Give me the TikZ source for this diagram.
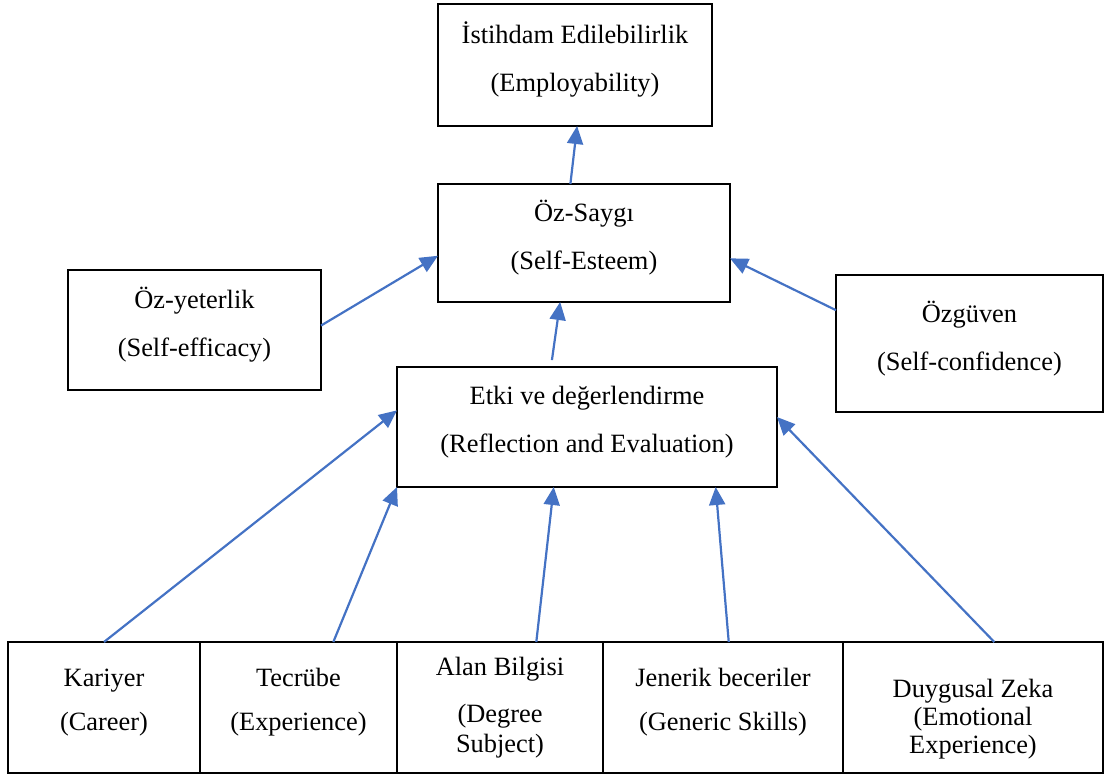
\documentclass[tikz,border=0pt]{standalone}
\usepackage{fontspec}
\setmainfont{Liberation Serif}
\usepackage{tikz}
\usetikzlibrary{positioning}
\usetikzlibrary{arrows.meta}
\definecolor{linkblue}{HTML}{4472C4}

\begin{document}
\begin{tikzpicture}[x=0.5pt,y=-0.5pt,
        box/.style = {draw=black, line width=1.3pt, rectangle, inner sep=0pt, outer sep=0pt,
                      align=center, font=\fontsize{13.2}{24}\selectfont,
                      execute at end node={\rule[-8pt]{0pt}{0pt}}},
        link/.style = {draw=linkblue, line width=1.1pt, -{Triangle[length=9pt,width=8pt]}}]
        \useasboundingbox (0,0) rectangle (1105,774);
        % upper part
        \node[box, minimum width=137pt, minimum height=61pt] (emp) at (575,65) {İstihdam Edilebilirlik\\(Employability)};
        \node[box, minimum width=146pt, minimum height=59pt] (esteem) at (584,243) {Öz-Saygı\\(Self-Esteem)};
        \node[box, minimum width=126.5pt, minimum height=60pt] (efficacy) at (194.5,330) {Öz-yeterlik\\(Self-efficacy)};
        \node[box, minimum width=133.5pt, minimum height=68.5pt] (confid) at (969.5,343.5) {Özgüven\\(Self-confidence)};
        \node[box, minimum width=190pt, minimum height=60pt] (reflect) at (587,427) {Etki ve değerlendirme\\(Reflection and Evaluation)};
        % bottom row
        \node[box, minimum width=96pt, minimum height=65.5pt, font=\fontsize{13.2}{22}\selectfont] (career) at (104,707.5) {Kariyer\\(Career)};
        \node[box, minimum width=98.5pt, minimum height=65.5pt, font=\fontsize{13.2}{22}\selectfont, right=0pt of career] (exper) {Tecrübe\\(Experience)};
        \node[box, minimum width=103pt, minimum height=65.5pt, font=\fontsize{13.2}{15}\selectfont, right=0pt of exper] (degree) {\rule{0pt}{15pt}Alan Bilgisi\\[8.5pt](Degree\\Subject)};
        \node[box, minimum width=120pt, minimum height=65.5pt, font=\fontsize{13.2}{22}\selectfont, right=0pt of degree] (generic) {Jenerik beceriler\\(Generic Skills)};
        \node[box, minimum width=130pt, minimum height=65.5pt, font=\fontsize{13.2}{14}\selectfont, right=0pt of generic] (emot) {\rule{0pt}{26pt}Duygusal Zeka\\(Emotional\\Experience)};
        % connectors
        \draw[link] (career.north) -- (reflect.175.5);
        \draw[link] (exper.62.9) -- (reflect.south west);
        \draw[link] (degree.61.2) -- (reflect.241.9);
        \draw[link] (generic.85) -- (reflect.-25);
        \draw[link] (emot.72.2) -- (reflect.3.9);
        \draw[link, shorten <=3.5pt] (reflect.121) -- (esteem.248.7);
        \draw[link] (efficacy.2.3) -- (esteem.185.9);
        \draw[link] (confid.166.7) -- (esteem.-6.3);
        \draw[link] (esteem.103.3) -- (emp.272.8);
\end{tikzpicture}
\end{document}
